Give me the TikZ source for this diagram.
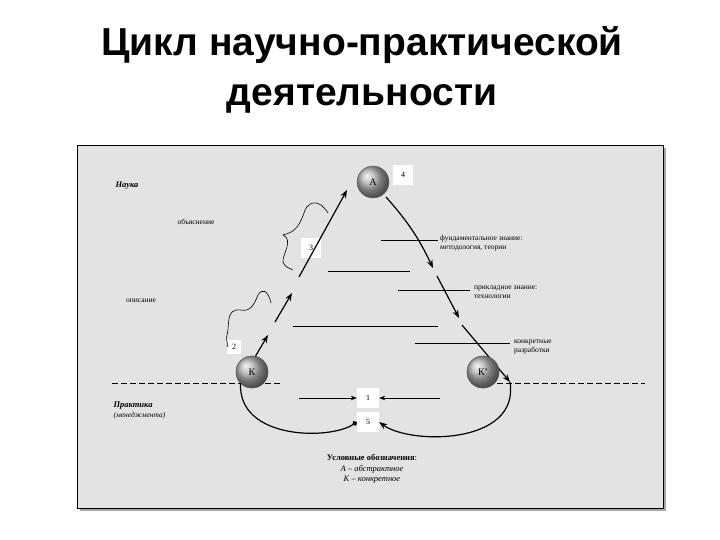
\documentclass[tikz,border=0pt]{standalone}
\usepackage{fontspec}
\setmainfont{Liberation Serif}
\newfontfamily\titlefont{Liberation Sans}
\usetikzlibrary{arrows.meta,decorations.pathmorphing}
\begin{document}
\begin{tikzpicture}[x=1pt,y=-1pt,
  ball/.style={circle,minimum size=32pt,inner sep=0pt,ball color=gray!60,draw=gray!70!black,font=\fontsize{10}{10}\selectfont},
  lbl/.style={fill=white,minimum width=20pt,minimum height=20pt,inner sep=0pt,font=\fontsize{8}{8}\selectfont},
  small/.style={font=\fontsize{7.5}{9}\selectfont,align=left,inner sep=0pt},
  arr/.style={-{Stealth[length=8pt]},line width=1.2pt},
  thin/.style={line width=0.6pt}]
\useasboundingbox (0,0) rectangle (720,540);
\fill[white] (0,0) rectangle (720,540);
\node[font=\titlefont\bfseries\fontsize{39}{50}\selectfont,align=center] (title) at (362,70) {Цикл научно-практической\\деятельности};
\fill[gray!70] (80,148) rectangle (666,511);
\filldraw[fill=gray!22,draw=black,line width=0.8pt] (77,145) rectangle (663,508);
\node[ball] (A) at (373,182) {А};
\node[ball] (K) at (252,372) {К};
\node[ball] (K2) at (483,372) {К'};
\node[lbl] (n4) at (403,175) {4};
\node[lbl] (n3) at (311,248) {3};
\node[lbl,minimum width=14pt,minimum height=14pt] (n2) at (234,347) {2};
\node[lbl,minimum width=22pt] (n1) at (368,398) {1};
\node[lbl,minimum width=22pt] (n5) at (368,422) {5};
% left side arrows
\coordinate (l1) at (255,357); \coordinate (l2) at (268,335);
\coordinate (l3) at (275,322); \coordinate (l4) at (292,293);
\coordinate (l5) at (299,277); \coordinate (l6) at (347,190);
\draw[arr] (l1) -- (l2); \draw[arr] (l3) -- (l4); \draw[arr] (l5) -- (l6);
% right side arrows
\coordinate (r1) at (386,197); \coordinate (r2) at (433,268);
\coordinate (r3) at (437,276); \coordinate (r4) at (459,318);
\coordinate (r5) at (462,325); \coordinate (r6) at (510,382);
\draw[arr] (r1) to[bend left=8] (r2); \draw[arr] (r3) -- (r4); \draw[arr] (r5) -- (r6);
% horizontal lines
\draw[thin] (381,240) -- (438,240);
\draw[thin] (328,271) -- (410,271);
\draw[thin] (398,290) -- (470,290);
\draw[thin] (293,326) -- (438,326);
\draw[thin] (415,343) -- (510,343);
\node[small,anchor=west] (t1) at (440,243) {фундаментальное знание:\\методология, теории};
\node[small,anchor=west] (t2) at (474,292) {прикладное знание:\\технологии};
\node[small,anchor=west] (t3) at (514,347) {конкретные\\разработки};
\node[small] (obj) at (196,222) {объяснение};
\node[small] (opis) at (141,301) {описание};
% braces
\draw[thin] (328,213) .. controls (320,200) and (310,200) .. (305,210) .. controls (300,225) and (296,232) .. (283,235)
  .. controls (294,240) and (282,255) .. (283,262) .. controls (285,268) and (290,268) .. (293,270);
\draw[thin] (271,303) .. controls (268,290) and (262,288) .. (258,295) .. controls (254,305) and (250,312) .. (241,310)
  .. controls (225,308) and (230,325) .. (227,335) .. controls (225,343) and (230,345) .. (n2.west);
\node[font=\bfseries\itshape\fontsize{8.5}{9}\selectfont] (nauka) at (127,186) {Наука};
\node[font=\itshape\fontsize{8.5}{10}\selectfont,align=left,anchor=west] (pr) at (110,411) {\textbf{Практика}\\{\fontsize{7.5}{9}\selectfont(менеджмента)}};
% dashed lines
\draw[dashed,dash pattern=on 6pt off 3pt,thin] (112,383) -- (282,383);
\draw[dashed,dash pattern=on 6pt off 3pt,thin] (497,383) -- (645,383);
\node[ball] at (K) {К};
\node[ball] at (K2) {К'};
% curves
\draw[-{Circle[length=5pt]},line width=1.2pt] (K.south west) .. controls (238,440) and (330,440) .. (n5.west);
\draw[arr] (r6) .. controls (520,445) and (410,445) .. (n5.east);
\draw[thin,-{Stealth[length=6pt]}] (299,398) -- (n1.west);
\draw[thin,-{Stealth[length=6pt]}] (440,398) -- (n1.east);
\node[font=\fontsize{8.5}{10.5}\selectfont,align=center] (leg) at (372,469) {\textbf{Условные обозначения}:\\\textit{А – абстрактное}\\\textit{К – конкретное}};
\end{tikzpicture}
\end{document}
